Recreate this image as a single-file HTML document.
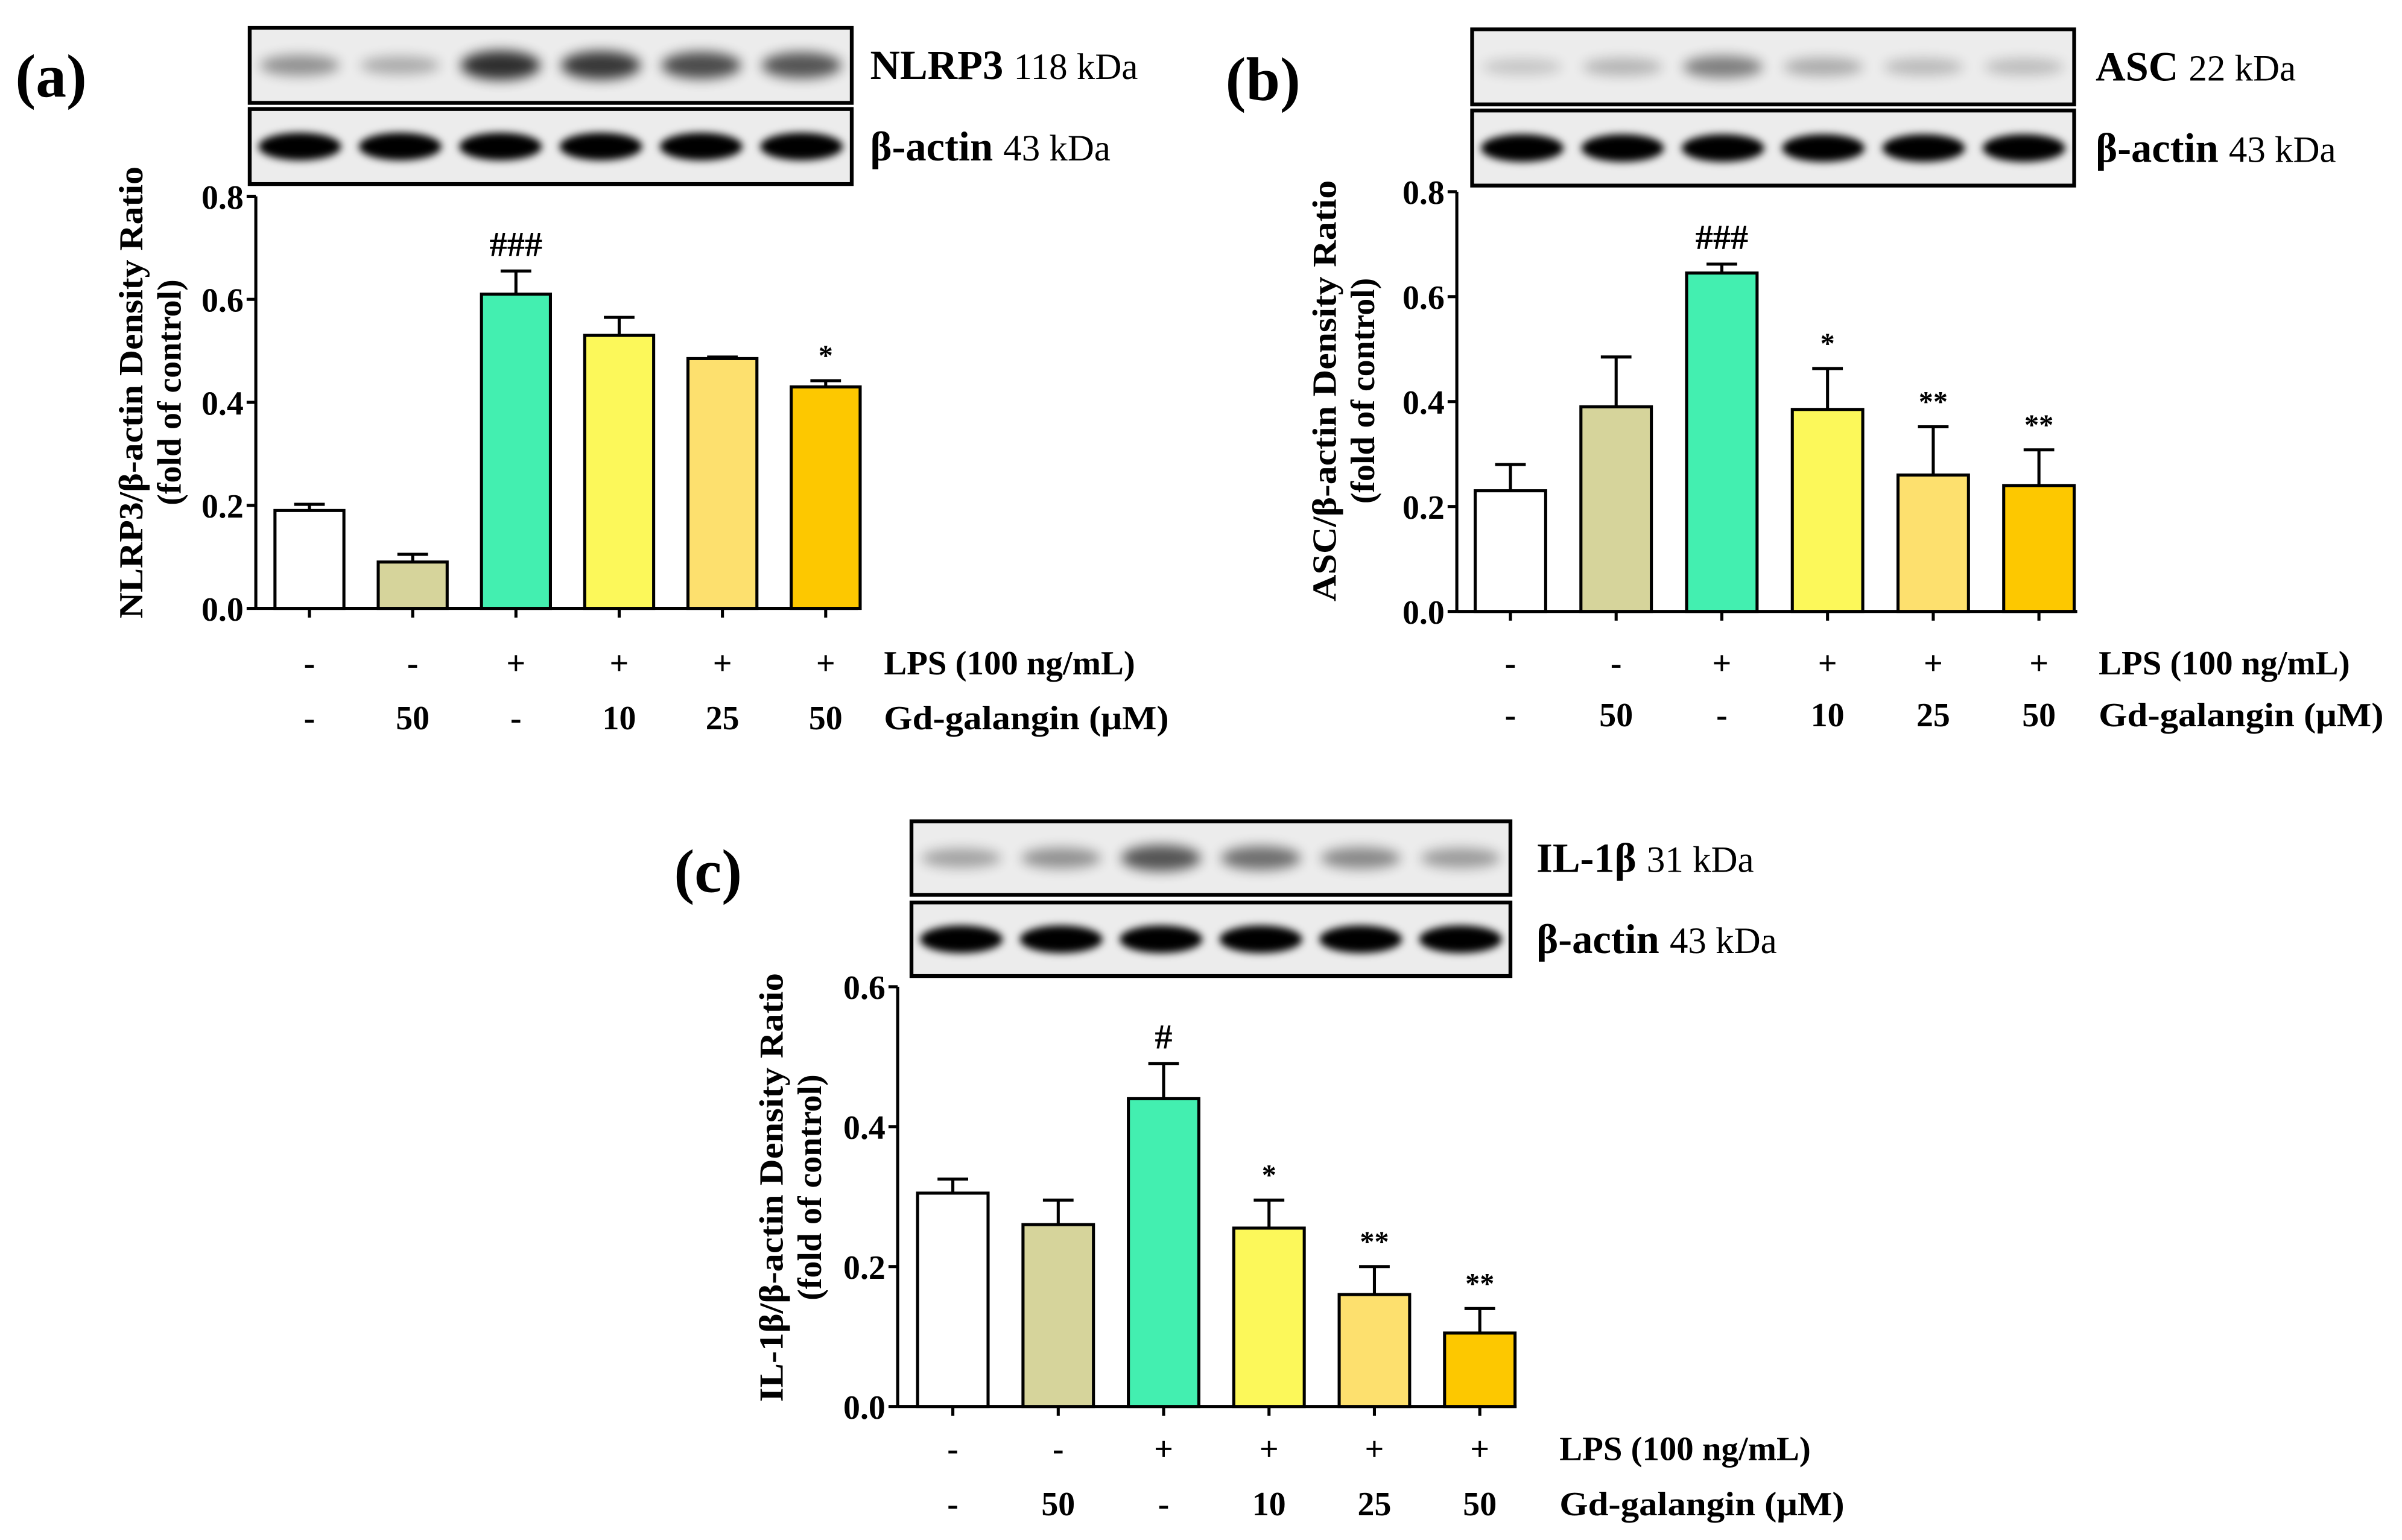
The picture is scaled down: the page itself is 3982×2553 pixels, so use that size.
<!DOCTYPE html>
<html><head><meta charset="utf-8">
<style>
html,body{margin:0;padding:0;background:#fff;}
svg{display:block;}
text{font-family:"Liberation Serif",serif;fill:#000;}
</style></head>
<body>
<svg id="fig" width="3982" height="2553" viewBox="0 0 1568 1005" xmlns="http://www.w3.org/2000/svg">
<defs>
<filter id="blur2" x="-50%" y="-100%" width="200%" height="300%"><feGaussianBlur stdDeviation="2.5"/></filter>
<filter id="blur4" x="-50%" y="-100%" width="200%" height="300%"><feGaussianBlur stdDeviation="4"/></filter>
</defs>
<g id="root"></g>
</svg>
<script>
// ---------- data ----------
const groups = ["ctrl","gd50","lps","lps+gd10","lps+gd25","lps+gd50"];
const lpsLabels = ["-","-","+","+","+","+"];
const gdLabels = ["-","50","-","10","25","50"];
const barColors = ["#ffffff","#d6d49b","#43efb0","#fcf85a","#fde06e","#fdc800"];

const nlrp3Values = [0.19,0.09,0.61,0.53,0.485,0.43];
const nlrp3Errors = [0.012,0.015,0.045,0.035,0.003,0.012];
const nlrp3Sig = ["","","###","","","*"];
const nlrp3Ticks = [0.0,0.2,0.4,0.6,0.8];
const nlrp3Band = [0.35,0.2,0.9,0.85,0.75,0.7];

const ascValues = [0.23,0.39,0.645,0.385,0.26,0.24];
const ascErrors = [0.05,0.095,0.017,0.078,0.092,0.068];
const ascSig = ["","","###","*","**","**"];
const ascTicks = [0.0,0.2,0.4,0.6,0.8];
const ascBand = [0.05,0.15,0.45,0.2,0.12,0.1];

const il1bValues = [0.305,0.26,0.44,0.255,0.16,0.105];
const il1bErrors = [0.02,0.035,0.05,0.04,0.04,0.035];
const il1bSig = ["","","#","*","**","**"];
const il1bTicks = [0.0,0.2,0.4,0.6];
const il1bBand = [0.25,0.35,0.7,0.55,0.4,0.3];

const NS="http://www.w3.org/2000/svg";
const root=document.getElementById('root');
function el(tag,attrs,parent){const e=document.createElementNS(NS,tag);for(const k in attrs)e.setAttribute(k,attrs[k]);(parent||root).appendChild(e);return e;}

function panel(cfg){
  const g=el('g',{});
  
  
  const y=v=>cfg.y0-(v/cfg.max)*(cfg.y0-cfg.yTop);
  const x=i=>cfg.x0+i*cfg.step;
  const lt=el('text',{x:cfg.letterX,y:cfg.letterY,'font-size':40,'font-weight':'bold'},g);lt.textContent=cfg.letter;
  
  
  [[cfg.blotY1,cfg.band,cfg.protein,cfg.kda,true],[cfg.blotY2,null,'β-actin','43 kDa',false]].forEach((b,bi)=>{
    const bg=el('g',{},g);
    
    
    el('rect',{x:cfg.blotX,y:b[0],width:cfg.blotW,height:cfg.blotH,fill:'#ececec',stroke:'#000','stroke-width':2.5},bg);
    for(let i=0;i<6;i++){
      const cx=cfg.blotX+cfg.blotW*(i+0.5)/6;
      const cy=b[0]+cfg.blotH/2;
      if(b[1]){
        const d=b[1][i];
        el('ellipse',{cx:cx,cy:cy,rx:26,ry:5+5*d,fill:'#000',opacity:(0.12+0.75*d).toFixed(2),filter:'url(#blur4)'},bg);
      } else {
        el('ellipse',{cx:cx,cy:cy,rx:27,ry:9,fill:'#000',filter:'url(#blur2)'},bg);
      }
    }
    const t=el('text',{x:cfg.labelX,y:b[0]+cfg.blotH/2+9,'font-size':27},bg);
    const t1=el('tspan',{'font-weight':'bold'},t);t1.textContent=b[2]+' ';
    const t2=el('tspan',{'font-size':24},t);t2.textContent=b[3];
  });
  const ax=el('g',{},g);
  
  
  el('line',{x1:cfg.axisX,y1:cfg.yTop,x2:cfg.axisX,y2:cfg.y0,stroke:'#000','stroke-width':2},ax);
  cfg.ticks.forEach(v=>{
    el('line',{x1:cfg.axisX-6,y1:y(v),x2:cfg.axisX,y2:y(v),stroke:'#000','stroke-width':2},ax);
    const t=el('text',{x:cfg.axisX-8,y:y(v)+8,'font-size':22,'font-weight':'bold','text-anchor':'end'},ax);t.textContent=v.toFixed(1);
  });
  const xa=el('line',{x1:cfg.axisX,y1:cfg.y0,x2:cfg.axisEnd,y2:cfg.y0,stroke:'#000','stroke-width':2},g);
  
  
  const tt=el('text',{transform:`translate(${cfg.titleX},${cfg.titleY}) rotate(-90)`,'font-size':22,'font-weight':'bold','text-anchor':'middle'},g);
  
  
  const s1=el('tspan',{x:0,dy:0,textLength:cfg.titleLen,lengthAdjust:'spacingAndGlyphs'},tt);s1.textContent=cfg.title;
  const s2=el('tspan',{x:0,dy:25},tt);s2.textContent='(fold of control)';
  for(let i=0;i<cfg.values.length;i++){
    const cx=x(i),v=cfg.values[i],e=cfg.errors[i];
    el('line',{x1:cx,y1:cfg.y0,x2:cx,y2:cfg.y0+6,stroke:'#000','stroke-width':2},g);
    el('line',{x1:cx,y1:y(v),x2:cx,y2:y(v+e),stroke:'#000','stroke-width':2},g);
    el('line',{x1:cx-10,y1:y(v+e),x2:cx+10,y2:y(v+e),stroke:'#000','stroke-width':2},g);
    const r=el('rect',{x:cx-cfg.bw/2,y:y(v),width:cfg.bw,height:cfg.y0-y(v),fill:barColors[i],stroke:'#000','stroke-width':2},g);
    
    
    if(cfg.sig[i]){
      const st=el('text',{x:cx,y:y(v+e)-10,'font-size':cfg.sig[i].startsWith('#')?23:19,'font-weight':'bold','text-anchor':'middle'},g);
      st.textContent=cfg.sig[i];
      
      
    }
    const l1=el('text',{x:cx,y:cfg.row1+8,'font-size':22,'font-weight':'bold','text-anchor':'middle'},g);l1.textContent=lpsLabels[i];
    const l2=el('text',{x:cx,y:cfg.row2+8,'font-size':22,'font-weight':'bold','text-anchor':'middle'},g);l2.textContent=gdLabels[i];
  }
  const r1=el('text',{x:cfg.rowLabelX,y:cfg.row1+8,'font-size':22,'font-weight':'bold',textLength:164,lengthAdjust:'spacingAndGlyphs'},g);r1.textContent='LPS (100 ng/mL)';
  
  
  const r2=el('text',{x:cfg.rowLabelX,y:cfg.row2+8,'font-size':22,'font-weight':'bold',textLength:186,lengthAdjust:'spacingAndGlyphs'},g);r2.textContent='Gd-galangin (μM)';
  
  
}

panel({name:'nlrp3',letter:'(a)',letterX:10,letterY:63,blotX:163,blotW:393,blotH:49,blotY1:18,blotY2:71,labelX:568,
  protein:'NLRP3',kda:'118 kDa',band:nlrp3Band,axisX:167,axisEnd:560,yTop:128,y0:397,max:0.8,ticks:nlrp3Ticks,
  x0:202,step:67.4,bw:45,values:nlrp3Values,errors:nlrp3Errors,sig:nlrp3Sig,title:'NLRP3/β-actin Density Ratio',titleLen:295,titleX:93,titleY:256,
  row1:432,row2:468,rowLabelX:577});
panel({name:'asc',letter:'(b)',letterX:800,letterY:65,blotX:961,blotW:393,blotH:49,blotY1:19,blotY2:72,labelX:1368,
  protein:'ASC',kda:'22 kDa',band:ascBand,axisX:951,axisEnd:1356,yTop:125,y0:399,max:0.8,ticks:ascTicks,
  x0:986,step:69,bw:46,values:ascValues,errors:ascErrors,sig:ascSig,title:'ASC/β-actin Density Ratio',titleLen:275,titleX:872,titleY:255,
  row1:432,row2:466,rowLabelX:1370});
panel({name:'il1b',letter:'(c)',letterX:440,letterY:582,blotX:595,blotW:391,blotH:48,blotY1:536,blotY2:589,labelX:1003,
  protein:'IL-1β',kda:'31 kDa',band:il1bBand,axisX:586,axisEnd:990,yTop:644,y0:918,max:0.6,ticks:il1bTicks,
  x0:622,step:68.8,bw:46,values:il1bValues,errors:il1bErrors,sig:il1bSig,title:'IL-1β/β-actin Density Ratio',titleLen:280,titleX:511,titleY:775,
  row1:945,row2:981,rowLabelX:1018});
</script>
</body></html>
